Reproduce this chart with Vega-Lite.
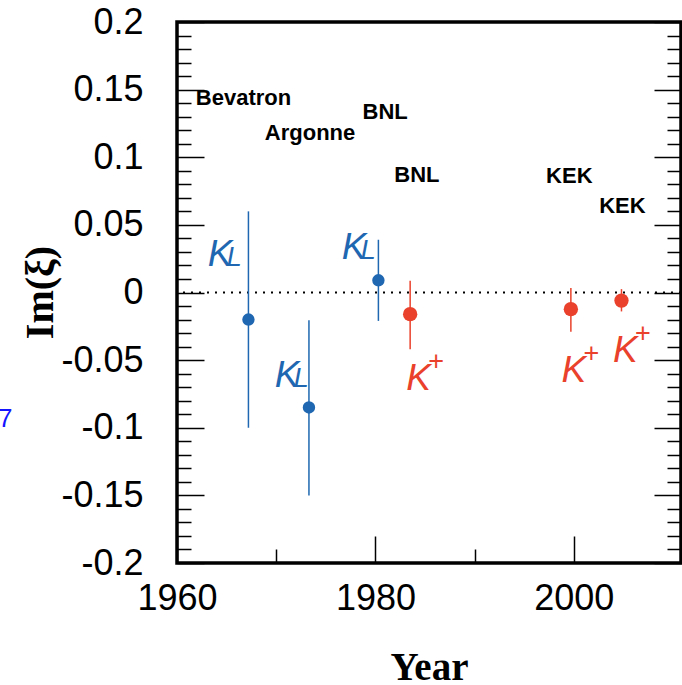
{
  "$schema": "https://vega.github.io/schema/vega-lite/v6.json",
  "width": 504,
  "height": 541,
  "autosize": {"type": "none"},
  "padding": {"left": 177, "top": 22, "right": 1, "bottom": 122},
  "background": "white",
  "config": {
    "view": {"stroke": "black", "strokeWidth": 3.5},
    "axis": {"grid": false, "domain": false, "tickColor": "black", "tickWidth": 1.5, "labelColor": "black", "labelFont": "Liberation Sans", "titleColor": "black"}
  },
  "datasets": {
    "pts": [
      {"year": 1967.2, "value": -0.020, "lo": -0.100, "hi": 0.060, "particle": "KL"},
      {"year": 1973.3, "value": -0.085, "lo": -0.150, "hi": -0.0205, "particle": "KL"},
      {"year": 1980.3, "value": 0.009, "lo": -0.021, "hi": 0.039, "particle": "KL"},
      {"year": 1983.5, "value": -0.016, "lo": -0.042, "hi": 0.0087, "particle": "K+"},
      {"year": 1999.7, "value": -0.0123, "lo": -0.029, "hi": 0.0033, "particle": "K+"},
      {"year": 2004.8, "value": -0.006, "lo": -0.014, "hi": 0.0025, "particle": "K+"}
    ],
    "fac": [
      {"year": 1961.9, "value": 0.139, "name": "Bevatron"},
      {"year": 1968.85, "value": 0.113, "name": "Argonne"},
      {"year": 1978.7, "value": 0.128, "name": "BNL"},
      {"year": 1981.9, "value": 0.0815, "name": "BNL"},
      {"year": 1997.2, "value": 0.081, "name": "KEK"},
      {"year": 2002.55, "value": 0.0588, "name": "KEK"}
    ],
    "klab": [
      {"year": 1963.1, "value": 0.0193, "particle": "KL"},
      {"year": 1969.85, "value": -0.0696, "particle": "KL"},
      {"year": 1976.6, "value": 0.0247, "particle": "KL"},
      {"year": 1983.1, "value": -0.0721, "particle": "K+"},
      {"year": 1998.75, "value": -0.0659, "particle": "K+"},
      {"year": 2003.95, "value": -0.0511, "particle": "K+"}
    ],
    "art": [
      {"year": 1941.95, "value": -0.0995, "t": "7"}
    ]
  },
  "resolve": {"axis": {"x": "independent", "y": "independent"}},
  "layer": [
    {
      "data": {"values": [{"z": 0}]},
      "mark": {"type": "rule", "color": "black", "strokeWidth": 2, "strokeDash": [2, 6]},
      "encoding": {
        "y": {"field": "z", "type": "quantitative", "scale": {"domain": [-0.2, 0.2], "nice": false, "zero": false}, "axis": null}
      }
    },
    {
      "data": {"name": "pts"},
      "mark": {"type": "rule", "strokeWidth": 1.5},
      "encoding": {
        "x": {"field": "year", "type": "quantitative",
          "scale": {"domain": [1960, 2010.8], "nice": false, "zero": false},
          "axis": {"orient": "bottom", "values": [1960, 1980, 2000], "tickSize": -27, "labelPadding": 45, "labelFontSize": 36, "labelFlush": false, "labelOverlap": false, "labelBound": false, "format": "d",
            "title": "Year", "titleFont": "Liberation Serif", "titleFontWeight": "bold", "titleFontSize": 39, "titleX": 252, "titleY": 116, "titleBaseline": "alphabetic", "titleAlign": "center"}},
        "y": {"field": "lo", "type": "quantitative",
          "scale": {"domain": [-0.2, 0.2], "nice": false, "zero": false},
          "axis": {"orient": "left", "values": [-0.2, -0.15, -0.1, -0.05, 0, 0.05, 0.1, 0.15, 0.2], "tickSize": -27, "labelPadding": 61, "labelFontSize": 36, "labelExpr": "'' + datum.value", "labelFlush": false, "labelOverlap": false, "labelBound": false,
            "title": "Im(ξ)", "titleFont": "Liberation Serif", "titleFontWeight": "bold", "titleFontSize": 40, "titleX": -125, "titleY": 270, "titleAngle": -90, "titleBaseline": "alphabetic", "titleAlign": "center"}},
        "y2": {"field": "hi"},
        "color": {"field": "particle", "type": "nominal", "scale": {"domain": ["KL", "K+"], "range": ["#1f67b1", "#e9412b"]}, "legend": null}
      }
    },
    {
      "data": {"name": "pts"},
      "mark": {"type": "circle", "opacity": 1},
      "encoding": {
        "x": {"field": "year", "type": "quantitative", "scale": {"domain": [1960, 2010.8], "nice": false, "zero": false},
          "axis": {"orient": "bottom", "values": [1970, 1990], "tickSize": -14, "labels": false, "title": null}},
        "y": {"field": "value", "type": "quantitative", "scale": {"domain": [-0.2, 0.2], "nice": false, "zero": false},
          "axis": {"orient": "left", "values": [-0.19, -0.18, -0.17, -0.16, -0.14, -0.13, -0.12, -0.11, -0.09, -0.08, -0.07, -0.06, -0.04, -0.03, -0.02, -0.01, 0.01, 0.02, 0.03, 0.04, 0.06, 0.07, 0.08, 0.09, 0.11, 0.12, 0.13, 0.14, 0.16, 0.17, 0.18, 0.19], "tickSize": -14, "labels": false, "title": null}},
        "color": {"field": "particle", "type": "nominal", "scale": {"domain": ["KL", "K+"], "range": ["#1f67b1", "#e9412b"]}, "legend": null},
        "size": {"field": "particle", "type": "nominal", "scale": {"domain": ["KL", "K+"], "range": [154, 205]}, "legend": null}
      }
    },
    {
      "data": {"name": "klab"},
      "mark": {"type": "text", "text": "K", "font": "Liberation Sans", "fontStyle": "italic", "fontSize": 37, "align": "left", "baseline": "alphabetic"},
      "encoding": {
        "x": {"field": "year", "type": "quantitative", "scale": {"domain": [1960, 2010.8], "nice": false, "zero": false}, "axis": null},
        "y": {"field": "value", "type": "quantitative", "scale": {"domain": [-0.2, 0.2], "nice": false, "zero": false},
          "axis": {"orient": "right", "values": [-0.2, -0.15, -0.1, -0.05, 0, 0.05, 0.1, 0.15, 0.2], "tickSize": -27, "labels": false, "title": null}},
        "color": {"field": "particle", "type": "nominal", "scale": {"domain": ["KL", "K+"], "range": ["#1f67b1", "#e9412b"]}, "legend": null}
      }
    },
    {
      "data": {"name": "klab"},
      "transform": [{"filter": "datum.particle === 'KL'"}],
      "mark": {"type": "text", "text": "L", "font": "Liberation Sans", "fontStyle": "italic", "fontSize": 27, "align": "left", "baseline": "alphabetic", "dx": 19, "dy": 0},
      "encoding": {
        "x": {"field": "year", "type": "quantitative", "scale": {"domain": [1960, 2010.8], "nice": false, "zero": false}, "axis": null},
        "y": {"field": "value", "type": "quantitative", "scale": {"domain": [-0.2, 0.2], "nice": false, "zero": false},
          "axis": {"orient": "right", "values": [-0.19, -0.18, -0.17, -0.16, -0.14, -0.13, -0.12, -0.11, -0.09, -0.08, -0.07, -0.06, -0.04, -0.03, -0.02, -0.01, 0.01, 0.02, 0.03, 0.04, 0.06, 0.07, 0.08, 0.09, 0.11, 0.12, 0.13, 0.14, 0.16, 0.17, 0.18, 0.19], "tickSize": -14, "labels": false, "title": null}},
        "color": {"field": "particle", "type": "nominal", "scale": {"domain": ["KL", "K+"], "range": ["#1f67b1", "#e9412b"]}, "legend": null}
      }
    },
    {
      "data": {"name": "klab"},
      "transform": [{"filter": "datum.particle === 'K+'"}],
      "mark": {"type": "text", "text": "+", "font": "Liberation Sans", "fontSize": 27, "align": "left", "baseline": "alphabetic", "dx": 22, "dy": -20},
      "encoding": {
        "x": {"field": "year", "type": "quantitative", "scale": {"domain": [1960, 2010.8], "nice": false, "zero": false}, "axis": null},
        "y": {"field": "value", "type": "quantitative", "scale": {"domain": [-0.2, 0.2], "nice": false, "zero": false}, "axis": null},
        "color": {"field": "particle", "type": "nominal", "scale": {"domain": ["KL", "K+"], "range": ["#1f67b1", "#e9412b"]}, "legend": null}
      }
    },
    {
      "data": {"name": "fac"},
      "mark": {"type": "text", "font": "Liberation Sans", "fontWeight": "bold", "fontSize": 22, "align": "left", "baseline": "alphabetic", "color": "black"},
      "encoding": {
        "x": {"field": "year", "type": "quantitative", "scale": {"domain": [1960, 2010.8], "nice": false, "zero": false}, "axis": null},
        "y": {"field": "value", "type": "quantitative", "scale": {"domain": [-0.2, 0.2], "nice": false, "zero": false}, "axis": null},
        "text": {"field": "name"}
      }
    },
    {
      "data": {"name": "art"},
      "mark": {"type": "text", "font": "Liberation Sans", "fontSize": 26, "align": "left", "baseline": "alphabetic", "color": "#1414ff"},
      "encoding": {
        "x": {"field": "year", "type": "quantitative", "scale": {"domain": [1960, 2010.8], "nice": false, "zero": false}, "axis": null},
        "y": {"field": "value", "type": "quantitative", "scale": {"domain": [-0.2, 0.2], "nice": false, "zero": false}, "axis": null},
        "text": {"field": "t"}
      }
    }
  ]
}
